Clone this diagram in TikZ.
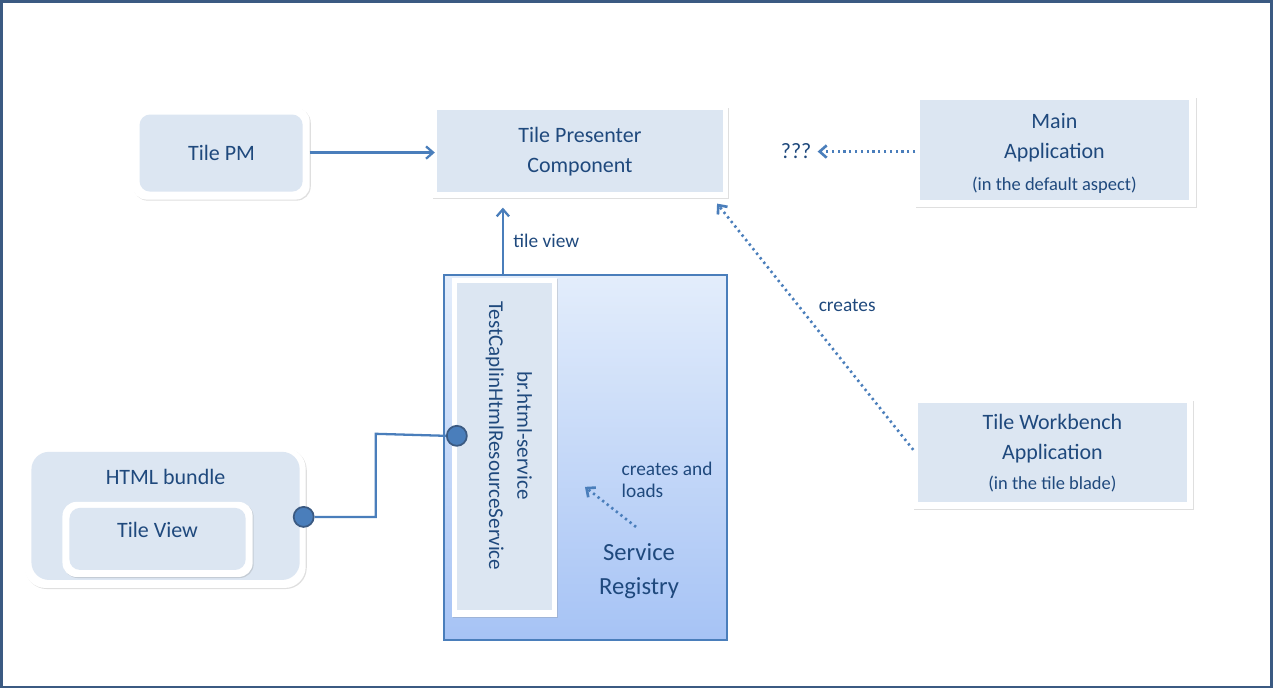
\documentclass[tikz,border=0pt]{standalone}
\usepackage{fontspec}
\setmainfont{Carlito}
\usetikzlibrary{arrows.meta, shadows}
\definecolor{txtblue}{HTML}{1F497D}
\definecolor{lineblue}{HTML}{4A7EBB}
\definecolor{boxfill}{HTML}{DCE6F2}
\definecolor{frameblue}{HTML}{3B5A82}
\definecolor{gradtop}{HTML}{E3EDFB}
\definecolor{gradbot}{HTML}{A6C3F5}
\begin{document}
\begin{tikzpicture}[x=0.02cm, y=-0.02cm, font=\fontsize{12.5pt}{17pt}\selectfont, text=txtblue,
  outer/.style = {fill=white, draw=none, drop shadow={opacity=0.25, shadow xshift=0.6pt, shadow yshift=-0.6pt}},
  inner/.style = {fill=boxfill, draw=none},
  arrow/.style = {-{Straight Barb[length=4pt, width=7pt]}, lineblue, line width=1.3pt},
  dotarrow/.style = {arrow, dotted, line width=1.5pt},
  port/.style = {circle, fill=lineblue, draw=frameblue, line width=1pt, minimum size=0.4cm, inner sep=0pt},
  small/.style = {font=\fontsize{10.5pt}{12pt}\selectfont},
  label/.style = {font=\fontsize{11pt}{13pt}\selectfont, text=txtblue}
]
\draw[frameblue, line width=1.6pt] (2,2) rectangle (1271,687);
% Tile PM
\fill[outer, rounded corners=8pt] (133,108) rectangle (310,200);
\fill[inner, rounded corners=6pt] (140,115) rectangle (303,192);
\node (tilepm) at (222,153) {Tile PM};
\coordinate (tilepm_e) at (310,153);
% Tile Presenter Component
\fill[outer] (432,107) rectangle (728,198);
\fill[inner] (437,110) rectangle (723,192);
\node[align=center] (presenter) at (580,152) {Tile Presenter\\Component};
\coordinate (presenter_w) at (435,153);
\coordinate (presenter_s) at (503,208);
\coordinate (presenter_se) at (717,204);
% Main Application
\fill[outer] (915,97) rectangle (1195,207);
\fill[inner] (920,100) rectangle (1188,200);
\node[align=center] (mainapp) at (1054,138) {Main\\Application};
\node[small] (mainnote) at (1054,186) {(in the default aspect)};
\coordinate (mainapp_w) at (915,152);
\node (qqq) at (796,152) {???};
% Tile Workbench Application
\fill[outer] (913,400) rectangle (1192,509);
\fill[inner] (918,403) rectangle (1186,502);
\node[align=center] (workbench) at (1052,439) {Tile Workbench\\Application};
\node[small] (wbnote) at (1052,484) {(in the tile blade)};
\coordinate (workbench_w) at (913,450);
% HTML bundle
\fill[outer, rounded corners=12pt] (25,448) rectangle (306,588);
\fill[inner, rounded corners=10pt] (32,452) rectangle (300,580);
\node (bundle) at (166,477) {HTML bundle};
\fill[outer, rounded corners=8pt] (63,502) rectangle (253,577);
\fill[inner, rounded corners=6pt] (70,508) rectangle (246,570);
\node (tileview) at (158,530) {Tile View};
% Service Registry
\shade[top color=gradtop, bottom color=gradbot] (444,275) rectangle (727,640);
\draw[lineblue, line width=1pt] (444,275) rectangle (727,640);
\fill[outer] (452,278) rectangle (557,617);
\fill[inner] (457,283) rectangle (552,610);
\node[rotate=-90, align=center, font=\fontsize{12pt}{16pt}\selectfont] (service) at (509,436) {br.html-service\\TestCaplinHtmlResourceService};
\node[font=\fontsize{14pt}{19pt}\selectfont, align=center] (registry) at (639,571) {Service\\Registry};
\node[label, align=left] (loadsnote) at (667,480) {creates and\\loads};
\coordinate (dot_start) at (636,527);
\coordinate (dot_end) at (585,487);
\coordinate (registry_n) at (503,275);
% ports and connectors
\node[port] (port_service) at (457,436) {};
\node[port] (port_bundle) at (304,517) {};
\draw[lineblue, line width=1.3pt] (port_bundle) -- (376,517) -- (376,434) -- (port_service.west);
\draw[arrow] (tilepm_e) -- (presenter_w);
\draw[arrow] (registry_n) -- node[right, label, xshift=2pt] {tile view} (presenter_s);
\draw[dotarrow] (mainapp_w) -- (qqq);
\draw[dotarrow] (workbench_w) -- (presenter_se);
\node[label] (createslbl) at (847,306) {creates};
\draw[dotarrow] (dot_start) -- (dot_end);
\end{tikzpicture}
\end{document}
